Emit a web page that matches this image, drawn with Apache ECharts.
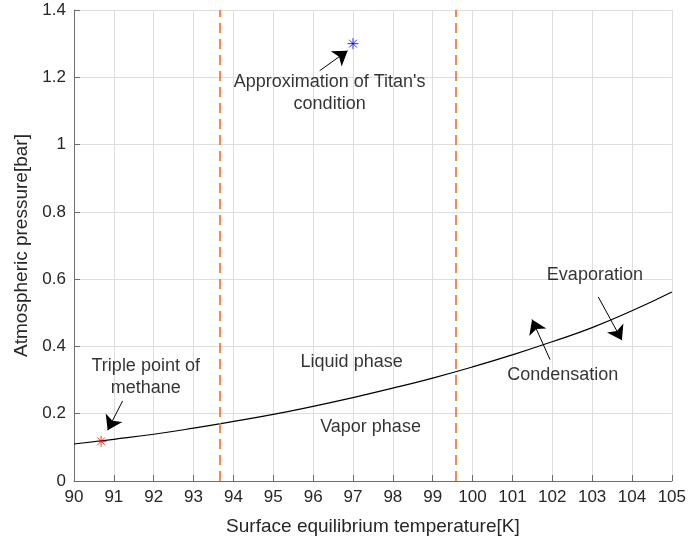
<!DOCTYPE html>
<html>
<head>
<meta charset="utf-8">
<script src="https://cdn.jsdelivr.net/npm/echarts@6/dist/echarts.min.js"></script>
<style>html,body{margin:0;padding:0;background:#fff}#c{width:689px;height:545px}</style>
</head>
<body>
<div id="c"></div>
<script>
// ---- data ----
var temperatures = [90, 91, 92, 93, 94, 95, 96, 97, 98, 99, 100, 101, 102, 103, 104, 105];
var pressures = [0.110, 0.124, 0.139, 0.157, 0.177, 0.198, 0.222, 0.248, 0.276, 0.306, 0.339, 0.375, 0.414, 0.456, 0.506, 0.562];
var triplePoint = [90.68, 0.118];
var titanPoint = [97.0, 1.30];
var boundaryTemps = [93.66, 99.57];
var annotationTexts = ["Approximation of Titan's\ncondition", "Triple point of\nmethane", "Liquid phase", "Vapor phase", "Evaporation", "Condensation"];
var annotationX = [96.414, 91.80, 96.966, 97.44, 103.07, 102.265];
var annotationY = [1.1535, 0.308, 0.353, 0.160, 0.612, 0.3144];
var arrowStarts = [[96.164, 1.2195], [91.22, 0.238], [101.944, 0.361], [103.155, 0.547]];
var arrowEnds = [[96.865, 1.279], [90.844, 0.151], [101.493, 0.480], [103.748, 0.4185]];
var xTicks = {min: 90, max: 105, interval: 1};
var yTicks = {min: 0, max: 1.4, interval: 0.2};

var curve = temperatures.map(function (t, i) { return [t, pressures[i]]; });
var annotations = annotationTexts.map(function (s, i) { return [annotationX[i], annotationY[i], s]; });
var arrows = arrowStarts.map(function (s, i) { return {coords: [s, arrowEnds[i]]}; });
var asterisk = 'path://M0,-6L0,6M-6,0L6,0M-4.2,-4.2L4.2,4.2M-4.2,4.2L4.2,-4.2';

var chart = echarts.init(document.getElementById('c'), null, {renderer: 'canvas'});
var axisText = '#262626';
var fontFam = '"Liberation Sans", Arial, sans-serif';
chart.setOption({
  animation: false,
  backgroundColor: '#fff',
  grid: {left: 74, right: 16, top: 10, bottom: 64, containLabel: false},
  xAxis: {
    type: 'value', min: xTicks.min, max: xTicks.max, interval: xTicks.interval,
    name: 'Surface equilibrium temperature[K]', nameLocation: 'middle', nameGap: 36,
    nameTextStyle: {color: axisText, fontSize: 19, fontFamily: fontFam},
    axisLine: {show: true, onZero: false, lineStyle: {color: '#6e6e6e', width: 1}},
    axisTick: {show: true, inside: true, length: 6, lineStyle: {color: '#6e6e6e'}},
    axisLabel: {color: axisText, fontSize: 17, fontFamily: fontFam, margin: 8},
    splitLine: {show: true, lineStyle: {color: '#dedede', width: 1}}
  },
  yAxis: {
    type: 'value', min: yTicks.min, max: yTicks.max, interval: yTicks.interval,
    name: 'Atmospheric pressure[bar]', nameLocation: 'middle', nameGap: 40,
    nameTextStyle: {color: axisText, fontSize: 19, fontFamily: fontFam},
    axisLine: {show: true, lineStyle: {color: '#6e6e6e', width: 1}},
    axisTick: {show: true, inside: true, length: 6, lineStyle: {color: '#6e6e6e'}},
    axisLabel: {color: axisText, fontSize: 17, fontFamily: fontFam, margin: 8,
      formatter: function (v) { return String(Math.round(v * 10) / 10); }},
    splitLine: {show: true, lineStyle: {color: '#dedede', width: 1}}
  },
  series: [
    {
      type: 'line', data: curve, smooth: true, showSymbol: false, symbol: 'none',
      lineStyle: {color: '#000', width: 1.2}, z: 3,
      markLine: {
        silent: true, symbol: ['none', 'none'], label: {show: false},
        lineStyle: {color: '#f9692c', width: 1.6, type: [10, 6]},
        data: boundaryTemps.map(function (t) { return {xAxis: t}; })
      }
    },
    {
      type: 'scatter', data: [triplePoint], symbol: asterisk, symbolSize: 11,
      itemStyle: {color: 'rgba(0,0,0,0)', borderColor: '#ff0000', borderWidth: 1}, z: 4
    },
    {
      type: 'scatter', data: [titanPoint], symbol: asterisk, symbolSize: 11,
      itemStyle: {color: 'rgba(0,0,0,0)', borderColor: '#0000ff', borderWidth: 1}, z: 4
    },
    {
      type: 'lines', coordinateSystem: 'cartesian2d', data: arrows,
      symbol: ['none', 'arrow'], symbolSize: [10, 14],
      lineStyle: {color: '#000', width: 1, opacity: 1}, z: 5
    },
    {
      type: 'scatter', data: annotations, symbolSize: 0, z: 6,
      label: {show: true, position: 'inside', color: '#000', fontSize: 18, fontFamily: fontFam,
        lineHeight: 22, align: 'center', verticalAlign: 'middle',
        formatter: function (p) { return p.data[2]; }}
    }
  ]
});
</script>
</body>
</html>
